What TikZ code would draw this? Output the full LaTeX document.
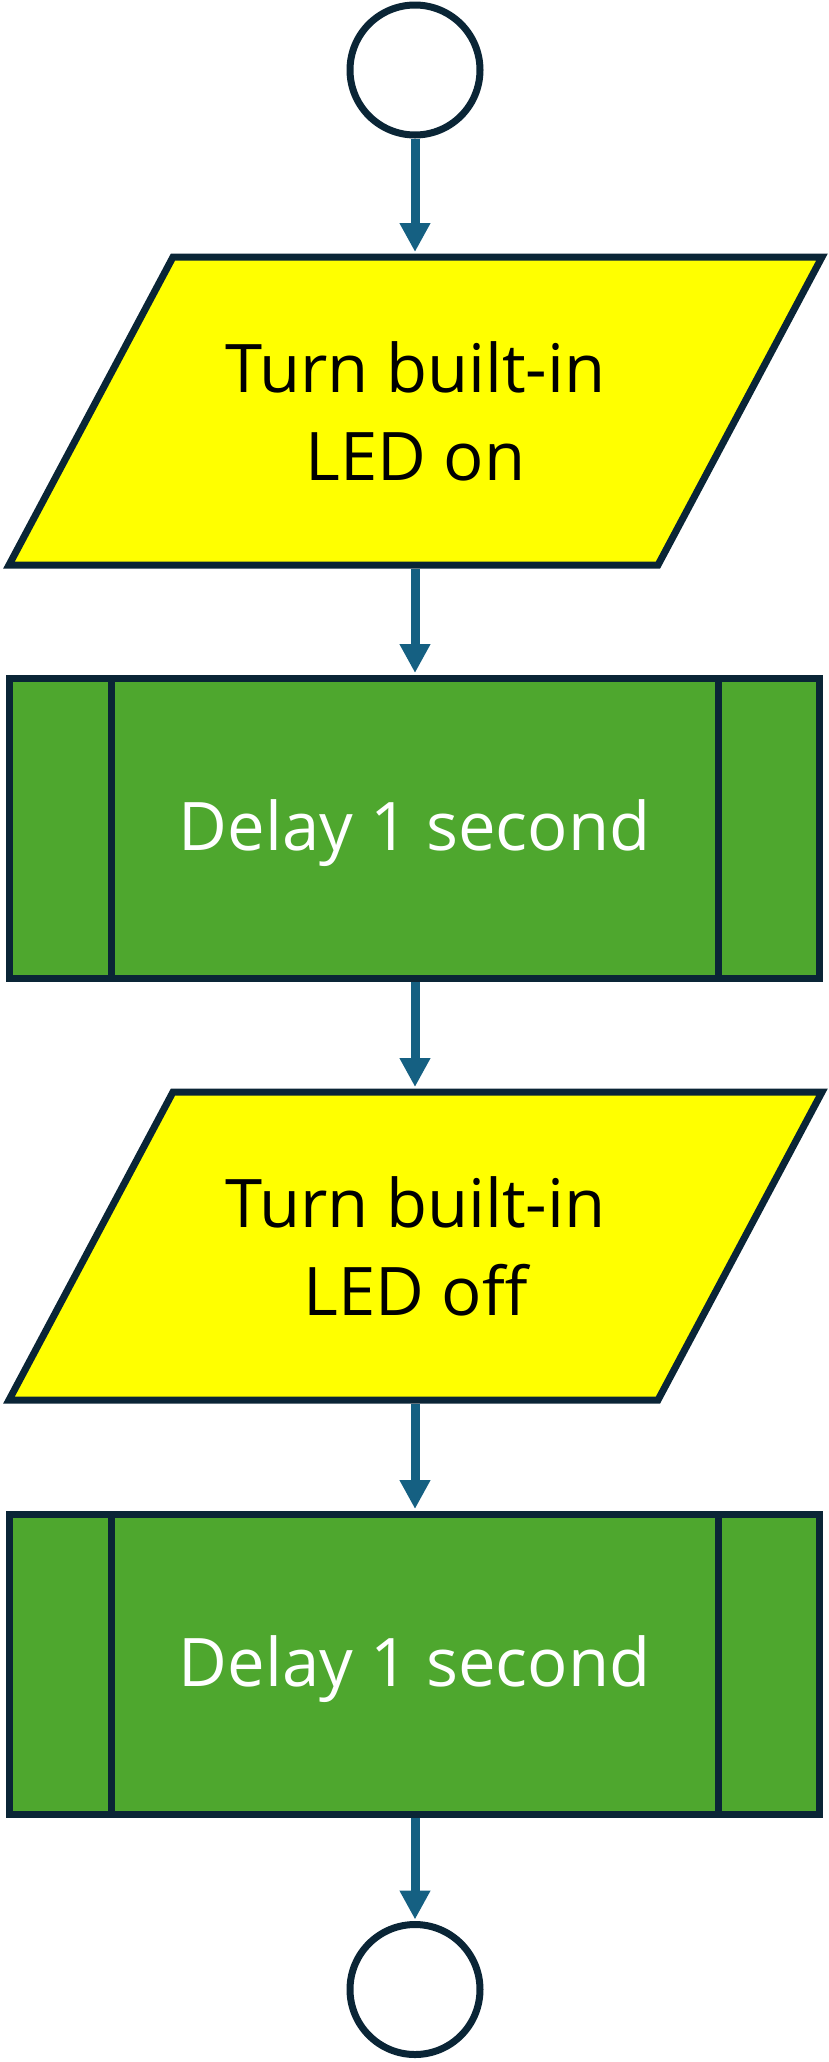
\documentclass[tikz,border=0pt]{standalone}
\usepackage{fontspec}
\setmainfont{Open Sans}
\usetikzlibrary{arrows.meta,calc,backgrounds}
\definecolor{outl}{HTML}{0A2536}
\definecolor{procgreen}{HTML}{4EA72E}
\definecolor{arrowblue}{HTML}{156082}
\definecolor{ioyellow}{HTML}{FFFF00}
\tikzset{
  terminal/.style={circle, draw=outl, line width=7pt, fill=white, minimum size=130pt, inner sep=0pt, outer sep=0pt},
  iobox/.style={rectangle, minimum width=813pt, minimum height=308pt, inner sep=0pt, outer sep=0pt, align=center, text=black, font=\fontsize{67}{88}\selectfont},
  pgram/.style={draw=outl, line width=7pt, fill=ioyellow, line join=miter},
  procbox/.style={rectangle, draw=outl, line width=7pt, fill=procgreen, minimum width=810pt, minimum height=300pt, inner sep=0pt, outer sep=0pt, text=white, text depth=6pt, font=\fontsize{67}{80}\selectfont},
  procline/.style={draw=outl, line width=7pt},
  flow/.style={draw=arrowblue, line width=9pt, -{Triangle[width=29pt,length=29pt]}, shorten <=3.5pt, shorten >=5pt}
}
\begin{document}
\begin{tikzpicture}[x=1pt,y=-1pt]
\useasboundingbox (0,0) rectangle (829,2062);
% terminals
\node[terminal] (start) at (415,70) {};
\node[terminal] (stop) at (415,1989.5) {};
% input/output 1
\node[iobox] (io1) at (415.5,411) {Turn built-in\\LED on};
\begin{scope}[on background layer]
\draw[pgram] ($(io1.north west)+(164,0)$) -- (io1.north east) -- ($(io1.south east)+(-164,0)$) -- (io1.south west) -- cycle;
\end{scope}
% process 1
\node[procbox] (proc1) at (414.5,828) {Delay 1 second};
\draw[procline] ($(proc1.north west)+(101.5,0)$) -- ($(proc1.south west)+(101.5,0)$);
\draw[procline] ($(proc1.north east)+(-101,0)$) -- ($(proc1.south east)+(-101,0)$);
% input/output 2
\node[iobox] (io2) at (415.5,1246) {Turn built-in\\LED off};
\begin{scope}[on background layer]
\draw[pgram] ($(io2.north west)+(164,0)$) -- (io2.north east) -- ($(io2.south east)+(-164,0)$) -- (io2.south west) -- cycle;
\end{scope}
% process 2
\node[procbox] (proc2) at (414.5,1664) {Delay 1 second};
\draw[procline] ($(proc2.north west)+(101.5,0)$) -- ($(proc2.south west)+(101.5,0)$);
\draw[procline] ($(proc2.north east)+(-101,0)$) -- ($(proc2.south east)+(-101,0)$);
% connectors
\draw[flow] (start.south) -- (start.south |- io1.north);
\draw[flow] (io1.south -| start.south) -- (start.south |- proc1.north);
\draw[flow] (proc1.south -| start.south) -- (start.south |- io2.north);
\draw[flow] (io2.south -| start.south) -- (start.south |- proc2.north);
\draw[flow] (proc2.south -| start.south) -- (stop.north);
\end{tikzpicture}
\end{document}
